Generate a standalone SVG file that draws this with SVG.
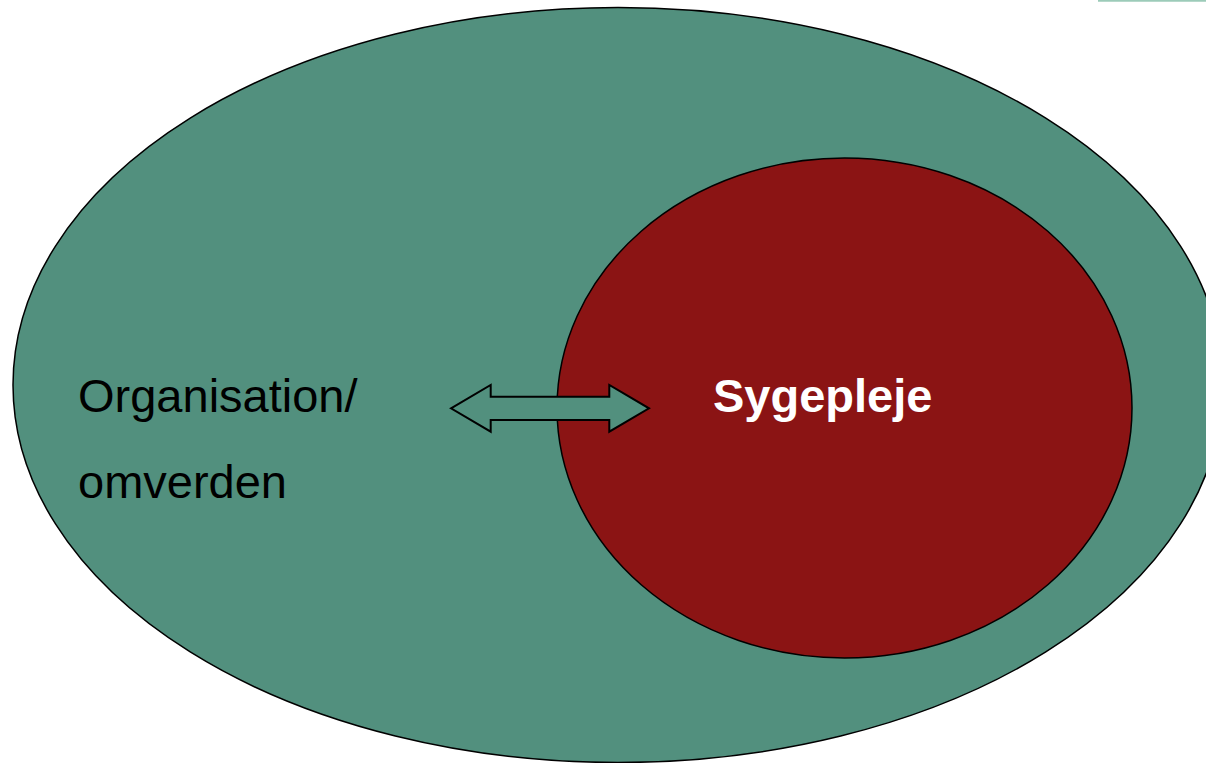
<svg xmlns="http://www.w3.org/2000/svg" width="1206" height="763" viewBox="0 0 1206 763">
<style>
.shape{stroke:#000;stroke-width:1.5}
.lbl{font-family:"Liberation Sans",Arial,sans-serif;font-size:47px;fill:#000}
.lblw{font-family:"Liberation Sans",Arial,sans-serif;font-size:47px;font-weight:bold;fill:#fff}
</style>
<rect width="1206" height="763" fill="#fff"/>
<line x1="1098" y1="0.8" x2="1206" y2="0.8" stroke="#9ccbb9" stroke-width="2"/>
<g id="omverden">
<ellipse class="shape" cx="618" cy="385" rx="605" ry="377.5" fill="#52907e"/>
<text class="lbl" x="78" y="412">Organisation/</text>
<text class="lbl" x="78" y="498">omverden</text>
</g>
<g id="sygepleje">
<ellipse class="shape" cx="844.5" cy="408" rx="287.5" ry="250" fill="#8b1414"/>
<text class="lblw" x="713" y="412">Sygepleje</text>
</g>
<g id="connectors">
<path d="M451,408.3 L490.7,385 L490.7,396.7 L609.3,396.7 L609.3,385 L649,408.3 L609.3,431.7 L609.3,420 L490.7,420 L490.7,431.7 Z" fill="#52907e" stroke="#000" stroke-width="2"/>
</g>
</svg>
